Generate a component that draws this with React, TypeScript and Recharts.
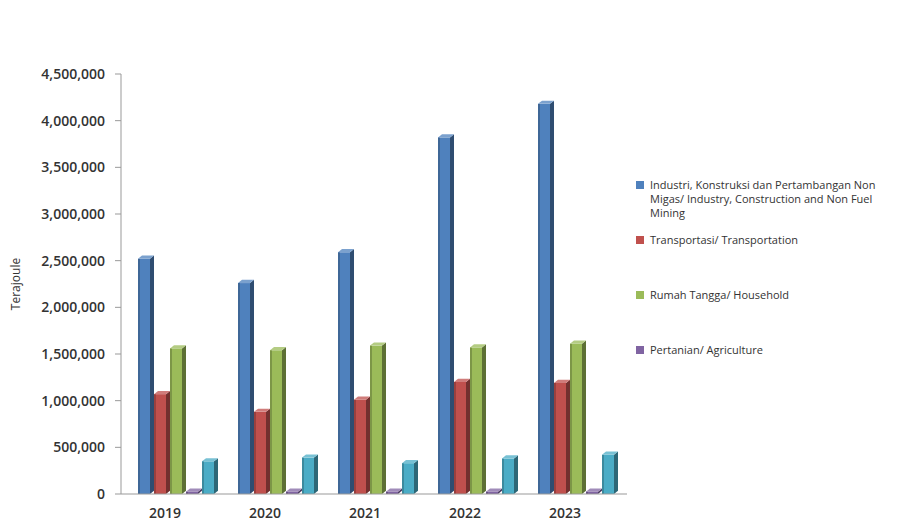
import React from "react";
import { BarChart, Bar, XAxis, YAxis, Label } from "recharts";

const years = ["2019", "2020", "2021", "2022", "2023"];
const industri = [2520000, 2260000, 2590000, 3820000, 4180000];
const transportasi = [1070000, 880000, 1010000, 1200000, 1190000];
const rumahTangga = [1560000, 1540000, 1590000, 1570000, 1610000];
const pertanian = [25000, 25000, 25000, 25000, 25000];
const lainnya = [350000, 390000, 330000, 380000, 420000];
const yTicks = [0, 500000, 1000000, 1500000, 2000000, 2500000, 3000000, 3500000, 4000000, 4500000];

const series = [
  { key: "industri", color: "#4F81BD", name: "Industri, Konstruksi dan Pertambangan Non Migas/ Industry, Construction and Non Fuel Mining" },
  { key: "transportasi", color: "#C0504D", name: "Transportasi/ Transportation" },
  { key: "rumahTangga", color: "#9BBB59", name: "Rumah Tangga/ Household" },
  { key: "pertanian", color: "#8064A2", name: "Pertanian/ Agriculture" },
  { key: "lainnya", color: "#4BACC6", name: "" },
];

const data = years.map((year, i) => ({
  year,
  industri: industri[i],
  transportasi: transportasi[i],
  rumahTangga: rumahTangga[i],
  pertanian: pertanian[i],
  lainnya: lainnya[i],
}));

function shade(hex: string, amt: number) {
  const n = parseInt(hex.slice(1), 16);
  const f = (c: number) => {
    const v = amt < 0 ? c * (1 + amt) : c + (255 - c) * amt;
    return Math.max(0, Math.min(255, Math.round(v)));
  };
  const r = f((n >> 16) & 255), g = f((n >> 8) & 255), b = f(n & 255);
  return `rgb(${r},${g},${b})`;
}

const Bar3D = (props: any) => {
  const { x, y, width, height, fill } = props;
  if (width == null || height == null) return null;
  const d = Math.min(4, width * 0.3);
  const fw = width - d;
  const dy = d * 0.8;
  return (
    <g>
      <rect x={x} y={y} width={fw} height={height} fill={fill} />
      <rect x={x} y={y} width={2} height={height} fill={shade(fill, -0.2)} />
      <polygon
        points={`${x + fw},${y} ${x + width},${y - dy} ${x + width},${y + height - dy} ${x + fw},${y + height}`}
        fill={shade(fill, -0.4)}
      />
      <polygon
        points={`${x},${y} ${x + d},${y - dy} ${x + width},${y - dy} ${x + fw},${y}`}
        fill={shade(fill, 0.25)}
      />
    </g>
  );
};

const font = "'Open Sans', sans-serif";

export default function App() {
  return (
    <div style={{ position: "absolute", left: 0, top: 0, width: 915, height: 525, background: "#fff" }}>
      <BarChart
        width={915}
        height={525}
        data={data}
        margin={{ top: 74, right: 288, bottom: 4, left: 0 }}
        barCategoryGap="11%"
        barGap={0}
      >
        <XAxis
          dataKey="year"
          padding={{ left: 6, right: 0 }}
          stroke="#999"
          tickLine={false}
          height={27}
          tick={{ fill: "#333", fontSize: 14, fontWeight: 600, fontFamily: font, dx: -12 }}
          tickMargin={8}
        />
        <YAxis
          width={121}
          domain={[0, 4500000]}
          ticks={yTicks}
          interval={0}
          stroke="#999"
          tickSize={6}
          tickMargin={10}
          tickFormatter={(v: number) => v.toLocaleString("en-US")}
          tick={{ fill: "#333", fontSize: 14, fontWeight: 600, fontFamily: font }}
        >
          <Label
            value="Terajoule"
            angle={-90}
            position="insideLeft"
            offset={16}
            style={{ fill: "#333", fontSize: 12, fontFamily: font, textAnchor: "middle" }}
          />
        </YAxis>
        {series.map((s) => (
          <Bar
            key={s.key}
            dataKey={s.key}
            name={s.name}
            fill={s.color}
            shape={<Bar3D />}
            isAnimationActive={false}
          />
        ))}
      </BarChart>
      <div
        style={{
          position: "absolute",
          left: 636,
          top: 178,
          fontFamily: font,
          fontSize: 11,
          color: "#333",
          lineHeight: "14px",
        }}
      >
        {series.filter((s) => s.name).map((s) => (
          <div key={s.key} style={{ display: "flex", alignItems: "flex-start", height: 55 }}>
            <span style={{ width: 8, height: 8, background: s.color, marginTop: 3, marginRight: 6, flexShrink: 0 }} />
            <span style={{ width: 236 }}>{s.name}</span>
          </div>
        ))}
      </div>
    </div>
  );
}
